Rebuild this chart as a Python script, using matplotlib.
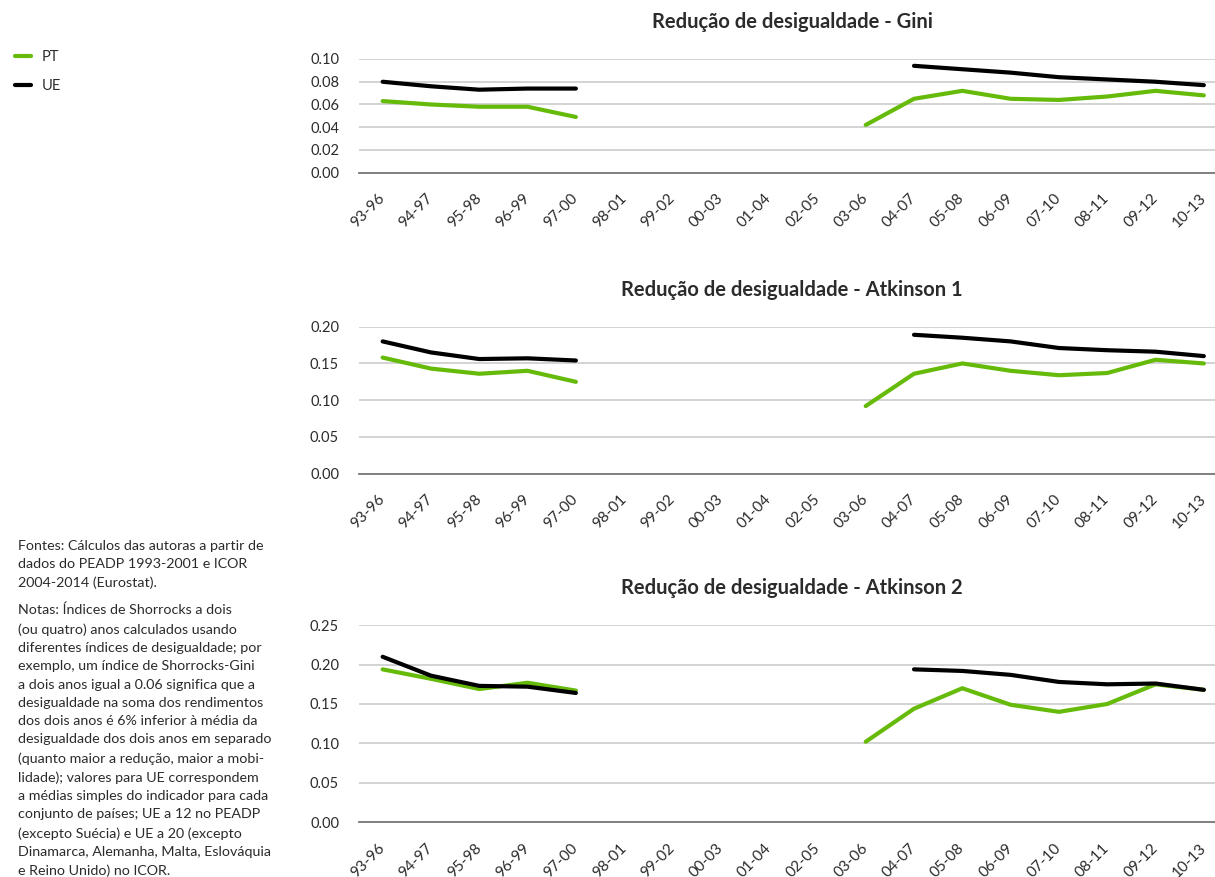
import numpy as np
import matplotlib
matplotlib.use('Agg')
import matplotlib.pyplot as plt
from matplotlib.lines import Line2D

nan = np.nan

periods = ['93-96', '94-97', '95-98', '96-99', '97-00', '98-01', '99-02',
           '00-03', '01-04', '02-05', '03-06', '04-07', '05-08', '06-09',
           '07-10', '08-11', '09-12', '10-13']

gini_pt = [0.063, 0.060, 0.058, 0.058, 0.049, nan, nan, nan, nan, nan,
           0.042, 0.065, 0.072, 0.065, 0.064, 0.067, 0.072, 0.068]
gini_ue = [0.080, 0.076, 0.073, 0.074, 0.074, nan, nan, nan, nan, nan,
           nan, 0.094, 0.091, 0.088, 0.084, 0.082, 0.080, 0.077]

atk1_pt = [0.158, 0.143, 0.136, 0.140, 0.125, nan, nan, nan, nan, nan,
           0.092, 0.136, 0.150, 0.140, 0.134, 0.137, 0.155, 0.150]
atk1_ue = [0.180, 0.165, 0.156, 0.157, 0.154, nan, nan, nan, nan, nan,
           nan, 0.189, 0.185, 0.180, 0.171, 0.168, 0.166, 0.160]

atk2_pt = [0.194, 0.182, 0.169, 0.177, 0.167, nan, nan, nan, nan, nan,
           0.102, 0.144, 0.170, 0.149, 0.140, 0.150, 0.175, 0.168]
atk2_ue = [0.210, 0.186, 0.173, 0.172, 0.164, nan, nan, nan, nan, nan,
           nan, 0.194, 0.192, 0.187, 0.178, 0.175, 0.176, 0.168]

titles = ['Redução de desigualdade - Gini',
          'Redução de desigualdade - Atkinson 1',
          'Redução de desigualdade - Atkinson 2']

notes = ("Fontes: Cálculos das autoras a partir de\n"
         "dados do PEADP 1993-2001 e ICOR\n"
         "2004-2014 (Eurostat).")
notes2 = ("Notas: Índices de Shorrocks a dois\n"
          "(ou quatro) anos calculados usando\n"
          "diferentes índices de desigualdade; por\n"
          "exemplo, um índice de Shorrocks-Gini\n"
          "a dois anos igual a 0.06 significa que a\n"
          "desigualdade na soma dos rendimentos\n"
          "dos dois anos é 6% inferior à média da\n"
          "desigualdade dos dois anos em separado\n"
          "(quanto maior a redução, maior a mobi-\n"
          "lidade); valores para UE correspondem\n"
          "a médias simples do indicador para cada\n"
          "conjunto de países; UE a 12 no PEADP\n"
          "(excepto Suécia) e UE a 20 (excepto\n"
          "Dinamarca, Alemanha, Malta, Eslováquia\n"
          "e Reino Unido) no ICOR.")

GREEN = '#66bb0a'
TXT = '#2b2b2b'

plt.rcParams['font.family'] = ['Lato', 'DejaVu Sans']

fig = plt.figure(figsize=(12.15, 8.77), dpi=100)

W, H = 1215., 877.
left, right = 358.5, 1228.
# (top pixel, bottom pixel, ymax, step)
panels = [(59.0, 172.7, 0.10, 0.02, gini_pt, gini_ue),
          (326.7, 473.7, 0.20, 0.05, atk1_pt, atk1_ue),
          (625.3, 822.0, 0.25, 0.05, atk2_pt, atk2_ue)]

x = np.arange(len(periods))
for (top, bot, ymax, step, pt, ue), title in zip(panels, titles):
    ax = fig.add_axes([left / W, 1 - bot / H, (right - left) / W, (bot - top) / H])
    ax.plot(x, pt, color=GREEN, lw=3.0, solid_capstyle='round')
    ax.plot(x, ue, color='black', lw=3.0, solid_capstyle='round')
    ax.set_xlim(-0.5, len(periods) - 0.5)
    ax.set_ylim(0, ymax)
    ticks = np.arange(0, ymax + step / 2, step)
    ax.set_yticks(ticks)
    ax.set_yticklabels(['%.2f' % t for t in ticks], fontsize=10.5, color=TXT)
    ax.set_xticks(x)
    ax.set_xticklabels(periods, rotation=45, ha='right', va='center',
                       rotation_mode='anchor', fontsize=11, color=TXT)
    ax.tick_params(axis='x', length=0, pad=17)
    ax.tick_params(axis='y', length=0, pad=14)
    ax.grid(axis='y', color='#d0d0d0', lw=1.3)
    ax.set_axisbelow(True)
    for s in ['top', 'right', 'left']:
        ax.spines[s].set_visible(False)
    ax.spines['bottom'].set_color('#777777')
    ax.spines['bottom'].set_linewidth(1.3)
    fig.text(792 / W, 1 - (top - 37) / H, title, ha='center', va='center',
             fontsize=14.5, fontweight='bold', color=TXT)

handles = [Line2D([], [], color=GREEN, lw=3.0, solid_capstyle='round'),
           Line2D([], [], color='black', lw=3.0, solid_capstyle='round')]
fig.legend(handles, ['PT', 'UE'], loc='upper left', bbox_to_anchor=(0.0016, 0.958),
           frameon=False, handlelength=1.1, handletextpad=0.75, labelspacing=1.05,
           fontsize=10.5, labelcolor=TXT)

fig.text(18 / W, 1 - 540 / H, notes, ha='left', va='top', fontsize=10.3,
         color=TXT, linespacing=1.63)
fig.text(18 / W, 1 - 604 / H, notes2, ha='left', va='top', fontsize=10.3,
         color=TXT, linespacing=1.63)

fig.savefig('out.png', dpi=100)
